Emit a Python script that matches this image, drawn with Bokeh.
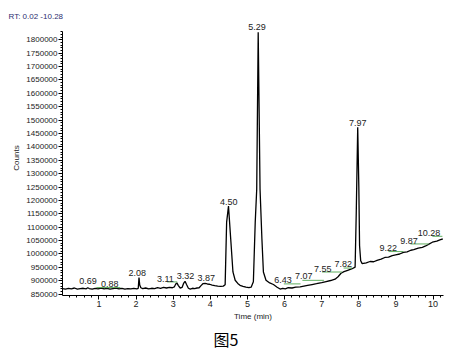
from bokeh.plotting import figure
from bokeh.models import (Range1d, SingleIntervalTicker, BasicTickFormatter,
                          ColumnDataSource, LabelSet, Title)
from bokeh.core.properties import value
from bokeh.embed import file_html
from bokeh.resources import INLINE

# ---- data ----
time_min = [0.02, 0.10, 0.18, 0.26, 0.34, 0.42, 0.50, 0.58, 0.66, 0.70, 0.74, 0.82,
            0.90, 0.98, 1.06, 1.14, 1.22, 1.30, 1.38, 1.46, 1.54, 1.62, 1.70, 1.78,
            1.86, 1.94, 2.02, 2.06, 2.08, 2.10, 2.13, 2.18, 2.26, 2.34, 2.42, 2.50,
            2.58, 2.66, 2.74, 2.82, 2.90, 2.98, 3.03, 3.07, 3.10, 3.14, 3.19, 3.24,
            3.28, 3.32, 3.36, 3.41, 3.46, 3.52, 3.58, 3.64, 3.70, 3.75, 3.80, 3.86,
            3.92, 3.98, 4.05, 4.12, 4.20, 4.28, 4.35, 4.40, 4.44, 4.49, 4.55, 4.61,
            4.67, 4.74, 4.80, 4.88, 4.96, 5.04, 5.10, 5.16, 5.21, 5.25, 5.29, 5.34,
            5.39, 5.43, 5.50, 5.60, 5.70, 5.80, 5.88, 5.95, 6.02, 6.10, 6.20, 6.30,
            6.42, 6.52, 6.62, 6.74, 6.86, 7.00, 7.12, 7.24, 7.36, 7.44, 7.52, 7.60,
            7.70, 7.82, 7.90, 7.93, 7.97, 8.00, 8.02, 8.05, 8.09, 8.20, 8.30, 8.40,
            8.49, 8.60, 8.70, 8.80, 8.90, 8.99, 9.10, 9.20, 9.30, 9.40, 9.48, 9.60,
            9.71, 9.80, 9.90, 9.98, 10.10, 10.20, 10.26]
counts = [871000, 869000, 872000, 870000, 873000, 869000, 871000, 872000, 870000, 874000, 871000, 869000,
          872000, 870000, 873000, 870000, 872000, 869000, 871000, 873000, 870000, 872000, 869000, 871000,
          870000, 872000, 870000, 872000, 912000, 884000, 874000, 871000, 873000, 870000, 872000, 871000,
          874000, 872000, 875000, 873000, 875000, 874000, 877000, 888000, 892000, 882000, 873000, 875000,
          890000, 898000, 886000, 872000, 869000, 872000, 871000, 873000, 874000, 882000, 889000, 890000,
          888000, 887000, 884000, 882000, 880000, 879000, 880000, 885000, 1119000, 1179000, 1056000, 933000,
          902000, 890000, 883000, 879000, 876000, 874000, 876000, 896000, 1119000, 1241000, 1828000, 1241000,
          1056000, 933000, 902000, 892000, 886000, 876000, 869000, 872000, 870000, 874000, 873000, 876000,
          877000, 880000, 883000, 886000, 889000, 893000, 897000, 901000, 906000, 915000, 928000, 934000,
          939000, 945000, 951000, 1150000, 1473000, 1250000, 1031000, 975000, 964000, 967000, 972000, 971000,
          976000, 981000, 987000, 988000, 994000, 997000, 1000000, 1006000, 1008000, 1014000, 1016000, 1022000,
          1025000, 1030000, 1038000, 1044000, 1048000, 1054000, 1056000]

peak_labels = ["0.69", "0.88", "2.08", "3.11", "3.32", "3.87", "4.50", "5.29",
               "6.43", "7.07", "7.55", "7.82", "7.97", "9.22", "9.87", "10.28"]
label_t = [0.71, 1.29, 2.03, 2.79, 3.33, 3.89, 4.50, 5.26,
           5.96, 6.52, 7.03, 7.58, 7.97, 8.79, 9.35, 9.89]
label_v = [897950, 889440, 930170, 907950, 916470, 910540, 1195670, 1848510,
           901650, 916470, 944980, 963500, 1488220, 1021630, 1049770, 1077180]

# integration baselines (green)
base_t0 = [0.93, 2.84, 5.98, 6.48, 7.01, 7.59, 8.80, 9.39, 9.98]
base_t1 = [1.58, 3.11, 6.43, 7.06, 7.55, 7.82, 9.20, 9.88, 10.25]
base_v = [874620, 895730, 888330, 901660, 932760, 947570, 1009040, 1037560, 1066070]

y_ticks_interval = 50000

FONT = "Liberation Sans"

p = figure(width=446, height=351, output_backend="svg", toolbar_location=None,
           x_range=Range1d(0.02, 10.28), y_range=Range1d(845000, 1872000),
           min_border_left=62, min_border_right=3, min_border_top=20,
           min_border_bottom=54)
p.outline_line_color = None
p.xgrid.visible = False
p.ygrid.visible = False
p.background_fill_color = "white"

p.line(time_min, counts, line_color="black", line_width=1.3)
p.segment(x0=base_t0, y0=base_v, x1=base_t1, y1=base_v,
          line_color="#5fae5f", line_width=1)

src = ColumnDataSource(dict(x=label_t, y=label_v, text=peak_labels))
p.add_layout(LabelSet(x="x", y="y", text="text", source=src,
                      text_font=value(FONT), text_font_size=value("9px"),
                      text_color="#222222",
                      text_align="center", text_baseline="middle"))

# axes
p.xaxis.ticker = SingleIntervalTicker(interval=1, num_minor_ticks=5)
p.yaxis.ticker = SingleIntervalTicker(interval=y_ticks_interval, num_minor_ticks=5)
p.yaxis.formatter = BasicTickFormatter(use_scientific=False)
p.yaxis.bounds = (845000, 1830000)
for ax in (p.xaxis, p.yaxis):
    ax.axis_line_color = "black"
    ax.major_tick_line_color = "black"
    ax.minor_tick_line_color = "black"
    ax.major_tick_in = 0
    ax.minor_tick_in = 0
    ax.major_tick_out = 4
    ax.minor_tick_out = 2
    ax.major_label_text_font = FONT
    ax.major_label_text_font_size = "8px"
    ax.major_label_text_color = "#222222"
    ax.axis_label_text_font = FONT
    ax.axis_label_text_font_size = "8px"
    ax.axis_label_text_font_style = "normal"
    ax.axis_label_text_color = "#222222"
    ax.major_label_standoff = 1
    ax.axis_label_standoff = 2
p.xaxis.major_label_text_font_size = "9px"
p.xaxis.axis_label = "Time (min)"
p.yaxis.axis_label = "Counts"

# header "RT: 0.02 - 10.28"
p.add_layout(Title(text="RT: 0.02 -10.28", align="left", offset=-54, standoff=0,
                   text_font=FONT, text_font_size="8px", text_font_style="normal",
                   text_color="#2e2e70"), "above")

# caption
p.add_layout(Title(text="图5", align="left", offset=151, standoff=2,
                   text_font="Noto Sans CJK SC", text_font_size="16px",
                   text_font_style="normal", text_color="black"), "below")

open("out.html", "w").write(file_html(p, INLINE))
